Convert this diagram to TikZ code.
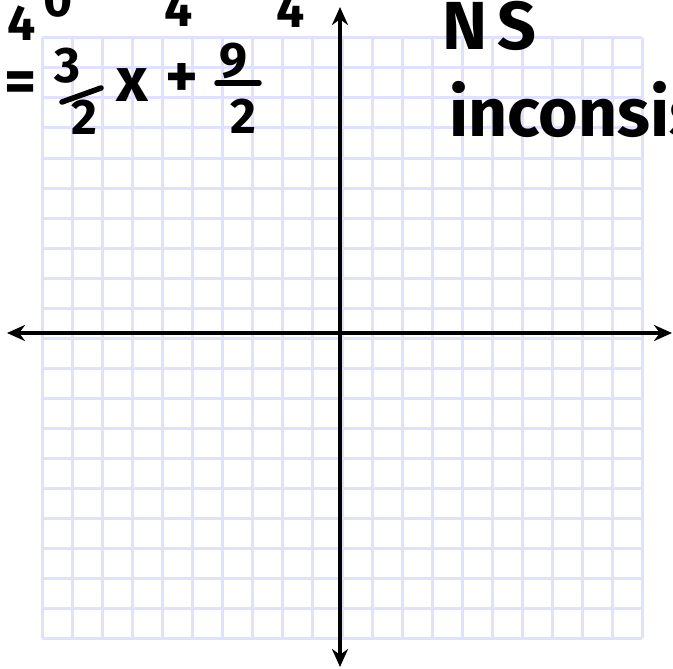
\documentclass[tikz,border=0pt]{standalone}
\usepackage{fontspec}
\setmainfont{Fira Sans}
\usetikzlibrary{arrows.meta}
\definecolor{gridc}{RGB}{224,224,255}
\begin{document}
\begin{tikzpicture}[x=1pt,y=-1pt,
  gridline/.style={draw=gridc,line width=3pt},
  axis/.style={line width=4.4pt,{Stealth[length=18pt,width=16pt]}-{Stealth[length=18pt,width=16pt]}},
  hand/.style={font=\fontsize{50}{56}\selectfont\bfseries,inner sep=0pt,anchor=center},
  sym/.style={font=\fontsize{62}{70}\selectfont\bfseries,inner sep=0pt,anchor=center},
  big/.style={font=\fontsize{68}{76}\selectfont\bfseries,inner sep=0pt},
  fracbar/.style={line width=5.5pt,line cap=round}]
\useasboundingbox (0,0) rectangle (673,669);
\fill[white] (0,0) rectangle (673,669);
\foreach \i in {0,...,20} {
  \draw[gridline] (42+30*\i,38) -- (42+30*\i,638);
  \draw[gridline] (42,38+30*\i) -- (642,38+30*\i);
}
\coordinate (L) at (7,333);
\coordinate (R) at (672,333);
\coordinate (T) at (340,7);
\coordinate (B) at (340,667);
\draw[axis] (L) -- (R);
\draw[axis] (B) -- (T);
% cut-off top line
\node[hand,anchor=base] (t1) at (22,41) {4};
\node[hand,anchor=base] (t2) at (58,17) {0};
\node[hand,anchor=base] (t3) at (179,27) {4};
\node[hand,anchor=base] (t4) at (291,28) {4};
% equation
\node[sym] (eq) at (21,87) {=};
\node[hand] (n1) at (67,66) {3};
\draw[fracbar] (62,102) coordinate (b1) -- (101,88) coordinate (b2);
\node[hand] (d1) at (84,117) {2};
\node[sym] (xx) at (132,85) {x};
\node[sym] (pl) at (182,80) {+};
\node[hand] (n2) at (233,61) {9};
\draw[fracbar] (217,83) coordinate (b3) -- (259,83) coordinate (b4);
\node[hand] (d2) at (243,116) {2};
% right notes
\node[big,anchor=base west] (ns) at (442,50) {N\hspace{10pt}S};
\node[big,anchor=base west] (inc) at (449,137) {inconsis};
\end{tikzpicture}
\end{document}
